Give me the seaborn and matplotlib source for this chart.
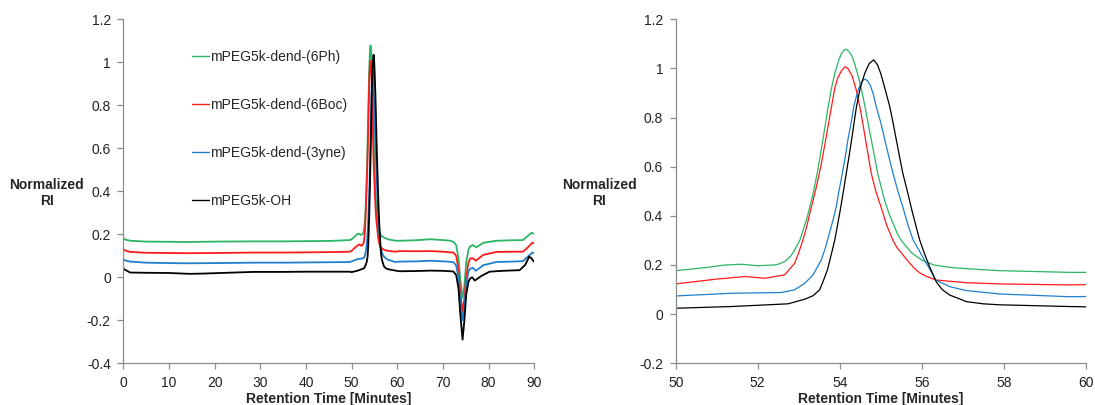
import pandas as pd
import matplotlib
matplotlib.use('Agg')
import matplotlib.pyplot as plt
import seaborn as sns
from matplotlib.ticker import FuncFormatter, MultipleLocator
from matplotlib.lines import Line2D

sns.set_style('ticks')
plt.rcParams['font.family'] = ['Liberation Sans', 'DejaVu Sans']

# GPC traces (retention time in minutes, normalized RI)
labels = ['mPEG5k-dend-(6Ph)', 'mPEG5k-dend-(6Boc)', 'mPEG5k-dend-(3yne)', 'mPEG5k-OH']
colors = ['#2cb564', '#ff1a1a', '#1f7fcc', '#000000']

t_6ph = [0, 0.5, 1.5, 5, 10, 14, 20, 28.5, 35, 40, 45, 49.6, 50, 50.7, 51.2, 51.6, 52.0, 52.4,
         52.5, 52.66, 52.8, 52.9, 53.03, 53.2, 53.35, 53.47, 53.6, 53.72, 53.8, 53.88, 53.97,
         54.04, 54.1, 54.15, 54.22, 54.3, 54.37, 54.45, 54.53, 54.61, 54.69, 54.77, 54.85, 54.93,
         55.1, 55.2, 55.3, 55.4, 55.5, 55.6, 55.75, 56.0, 56.3, 56.7, 57.1, 57.9, 59.6, 60.6,
         64, 67.2, 70, 71.6, 72.3, 72.9, 73.4, 73.8, 74.3, 74.7, 75.1, 75.6, 76.0, 76.6, 77.3,
         78.8, 81.7, 85, 87.5, 88.4, 89.4, 89.9]
ri_6ph = [0.181, 0.175, 0.170, 0.166, 0.165, 0.164, 0.166, 0.167, 0.167, 0.168, 0.169, 0.173,
          0.177, 0.189, 0.200, 0.203, 0.197, 0.200, 0.203, 0.214, 0.235, 0.261, 0.302, 0.39,
          0.49, 0.59, 0.72, 0.845, 0.92, 0.98, 1.03, 1.06, 1.074, 1.078, 1.07, 1.05, 1.015,
          0.97, 0.915, 0.85, 0.78, 0.71, 0.64, 0.57, 0.46, 0.41, 0.37, 0.33, 0.30, 0.28, 0.25,
          0.22, 0.20, 0.19, 0.185, 0.177, 0.170, 0.170, 0.172, 0.177, 0.173, 0.170, 0.165, 0.15,
          0.09, -0.01, -0.095, -0.04, 0.07, 0.13, 0.145, 0.150, 0.139, 0.160, 0.170, 0.172,
          0.173, 0.189, 0.207, 0.203]

t_6boc = [0, 0.5, 1.5, 5, 10, 14, 20, 28.5, 35, 40, 45, 49.6, 50, 50.96, 51.69, 52.18, 52.66,
          52.9, 53.0, 53.1, 53.2, 53.3, 53.42, 53.55, 53.68, 53.8, 53.88, 53.95, 54.04, 54.13,
          54.2, 54.3, 54.4, 54.49, 54.56, 54.63, 54.77, 54.88, 55.0, 55.15, 55.3, 55.4, 55.5,
          55.71, 55.83, 55.95, 56.1, 56.34, 57.09, 57.9, 59.6, 60.6, 64, 67.2, 70, 71.6, 72.3,
          72.9, 73.4, 73.8, 74.3, 74.7, 75.1, 75.6, 76.0, 76.6, 77.2, 78.8, 81.7, 85, 87.5,
          88.4, 89.6, 89.9]
ri_6boc = [0.130, 0.124, 0.118, 0.114, 0.113, 0.112, 0.113, 0.115, 0.115, 0.116, 0.117, 0.119,
           0.123, 0.142, 0.153, 0.146, 0.160, 0.207, 0.25, 0.30, 0.36, 0.43, 0.51, 0.61, 0.73,
           0.845, 0.92, 0.96, 0.99, 1.007, 1.0, 0.97, 0.915, 0.845, 0.78, 0.71, 0.573, 0.50,
           0.44, 0.36, 0.30, 0.27, 0.25, 0.207, 0.185, 0.168, 0.155, 0.139, 0.128, 0.123, 0.119,
           0.122, 0.121, 0.122, 0.119, 0.116, 0.115, 0.10, 0.04, -0.07, -0.16, -0.10, 0.0, 0.07,
           0.088, 0.088, 0.077, 0.104, 0.118, 0.119, 0.119, 0.135, 0.161, 0.158]

t_3yne = [0, 0.5, 1.5, 5, 10, 14, 20, 28.5, 35, 40, 45, 49.6, 50, 51.36, 52.58, 52.9, 53.15,
          53.35, 53.45, 53.55, 53.65, 53.75, 53.84, 53.92, 53.98, 54.05, 54.13, 54.2, 54.28,
          54.35, 54.45, 54.53, 54.61, 54.68, 54.75, 54.82, 54.89, 55.0, 55.1, 55.2, 55.3, 55.42,
          55.55, 55.67, 55.79, 55.9, 56.0, 56.19, 56.34, 56.68, 57.09, 57.9, 59.6, 60.6, 64,
          67.2, 70, 71.6, 72.3, 72.9, 73.4, 73.8, 74.3, 74.7, 75.1, 75.6, 76.1, 76.6, 77.2, 78.8,
          81.7, 85, 87.5, 88.6, 89.6, 89.9]
ri_3yne = [0.083, 0.078, 0.073, 0.068, 0.066, 0.065, 0.066, 0.068, 0.068, 0.069, 0.070, 0.071,
           0.074, 0.085, 0.088, 0.099, 0.126, 0.16, 0.19, 0.22, 0.27, 0.33, 0.385, 0.44, 0.50,
           0.56, 0.635, 0.71, 0.78, 0.85, 0.913, 0.945, 0.957, 0.95, 0.93, 0.895, 0.845, 0.78,
           0.71, 0.64, 0.573, 0.50, 0.43, 0.36, 0.302, 0.27, 0.24, 0.185, 0.139, 0.112, 0.096,
           0.082, 0.071, 0.073, 0.074, 0.077, 0.074, 0.072, 0.070, 0.055, 0.0, -0.11, -0.20,
           -0.14, -0.04, 0.03, 0.041, 0.044, 0.030, 0.056, 0.071, 0.073, 0.075, 0.096, 0.115,
           0.112]

t_oh = [0, 0.3, 1.0, 1.5, 5, 10, 14.6, 17, 20, 28.5, 35, 40, 45, 49.6, 50, 51.36, 52.74, 53.15,
        53.35, 53.51, 53.6, 53.7, 53.79, 53.88, 53.95, 54.02, 54.09, 54.16, 54.23, 54.3, 54.36,
        54.41, 54.5, 54.61, 54.72, 54.83, 54.92, 55.0, 55.1, 55.22, 55.3, 55.38, 55.46, 55.54,
        55.65, 55.75, 55.85, 55.95, 56.07, 56.19, 56.36, 56.5, 56.68, 57.09, 57.5, 57.9, 59.6,
        60.6, 64, 67.2, 70, 71.6, 72.3, 72.9, 73.4, 73.8, 74.3, 74.7, 75.1, 75.6, 76.0, 76.4,
        77.0, 78.4, 80.2, 83, 86.8, 88.0, 88.9, 89.4, 89.9]
ri_oh = [0.042, 0.036, 0.028, 0.022, 0.021, 0.020, 0.016, 0.017, 0.019, 0.025, 0.025, 0.026,
         0.026, 0.026, 0.024, 0.031, 0.042, 0.061, 0.075, 0.099, 0.135, 0.18, 0.24, 0.302, 0.365,
         0.43, 0.50, 0.573, 0.645, 0.72, 0.79, 0.845, 0.92, 0.98, 1.02, 1.035, 1.015, 0.98,
         0.92, 0.845, 0.78, 0.71, 0.64, 0.573, 0.50, 0.43, 0.365, 0.302, 0.245, 0.194, 0.13,
         0.10, 0.078, 0.051, 0.042, 0.038, 0.031, 0.028, 0.029, 0.031, 0.030, 0.028, 0.027,
         0.01, -0.05, -0.17, -0.29, -0.20, -0.08, -0.02, -0.005, 0.0, -0.015, 0.006, 0.026,
         0.030, 0.033, 0.057, 0.096, 0.088, 0.073]

times = [t_6ph, t_6boc, t_3yne, t_oh]
signals = [ri_6ph, ri_6boc, ri_3yne, ri_oh]

frames = []
for lab, t, ri in zip(labels, times, signals):
    frames.append(pd.DataFrame({'Time': t, 'RI': ri, 'Sample': lab}))
df = pd.concat(frames, ignore_index=True)
palette = dict(zip(labels, colors))

fig = plt.figure(figsize=(10.95, 4.05), dpi=100)
ax1 = fig.add_axes([0.1126, 0.1030, 0.3753, 0.8494])
ax2 = fig.add_axes([0.6171, 0.1030, 0.3744, 0.8494])

# ---------------------- Full chromatogram ----------------------
sns.lineplot(data=df, x='Time', y='RI', hue='Sample', palette=palette, estimator=None,
             sort=False, lw=1.3, legend=False, ax=ax1)
ax1.set_xlim(0, 90)
ax1.set_ylim(-0.4, 1.2)
ax1.xaxis.set_major_locator(MultipleLocator(10))
ax1.yaxis.set_major_locator(MultipleLocator(0.2))

# ---------------------- Zoom on the main peak ----------------------
sns.lineplot(data=df, x='Time', y='RI', hue='Sample', palette=palette, estimator=None,
             sort=False, lw=0.9, legend=False, ax=ax2)
ax2.set_xlim(50, 60)
ax2.set_ylim(-0.2, 1.2)
ax2.xaxis.set_major_locator(MultipleLocator(2))
ax2.yaxis.set_major_locator(MultipleLocator(0.2))

fmt = FuncFormatter(lambda v, pos: '{:g}'.format(round(v, 2)))
for ax in (ax1, ax2):
    sns.despine(ax=ax)
    for side in ('left', 'bottom'):
        ax.spines[side].set_color('#8c8c8c')
        ax.spines[side].set_linewidth(0.9)
    ax.tick_params(direction='out', length=4, width=0.9, color='#8c8c8c',
                   labelcolor='#222222', labelsize=10, pad=5)
    ax.yaxis.set_major_formatter(fmt)
    ax.xaxis.set_major_formatter(fmt)
    ax.set_xlabel('Retention Time [Minutes]', fontsize=10, fontweight='bold')
    ax.xaxis.set_label_coords(0.5, -0.083)
    ax.set_ylabel('Normalized\nRI', fontsize=10, fontweight='bold', rotation=0,
                  ha='center', va='center')
    ax.yaxis.set_label_coords(-0.186, 0.495)

handles = [Line2D([], [], color=c, lw=1.0) for c in colors]
ax1.legend(handles, labels, loc='upper left', bbox_to_anchor=(0.1753, 0.877),
           bbox_transform=fig.transFigure, frameon=False, borderpad=0, borderaxespad=0,
           handlelength=1.2, handletextpad=0.1, labelspacing=2.45, fontsize=10)

plt.savefig('out.png', dpi=100)
